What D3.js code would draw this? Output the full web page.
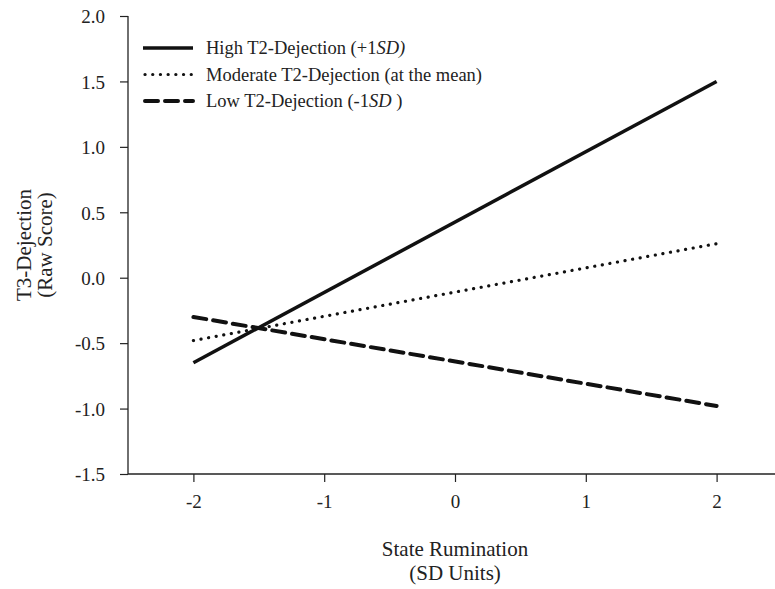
<!DOCTYPE html>
<html>
<head>
<meta charset="utf-8">
<script src="https://cdn.jsdelivr.net/npm/d3@7"></script>
<style>
  body { margin: 0; background: #fff; }
</style>
</head>
<body>
<svg id="chart" width="775" height="589"></svg>
<script>
const FONT = '"Liberation Serif", "Times New Roman", Times, serif';
const MARGIN = { top: 16, left: 128, bottom: 115 };
const W = 775, H = 589;
const TICK_FONT = 19, LEGEND_FONT = 18.5, TITLE_FONT = 21;

// data
const xValues = [-2, 2];
const seriesNames = ['High T2-Dejection (+1SD)', 'Moderate T2-Dejection (at the mean)', 'Low T2-Dejection (-1SD )'];
const highValues = [-0.65, 1.5];
const moderateValues = [-0.48, 0.26];
const lowValues = [-0.30, -0.98];
const xTicks = [-2, -1, 0, 1, 2];
const yTicks = [-1.5, -1.0, -0.5, 0.0, 0.5, 1.0, 1.5, 2.0];

const series = [
  { name: seriesNames[0], values: highValues, dash: null, width: 3.5, cap: 'butt' },
  { name: seriesNames[1], values: moderateValues, dash: '0.1 7.6', width: 3.2, cap: 'round' },
  { name: seriesNames[2], values: lowValues, dash: '13 7', width: 4, cap: 'round' }
];

const svg = d3.select('#chart');

const x = d3.scaleLinear().domain([-2.5, 2.5]).range([MARGIN.left, MARGIN.left + 5 * 130.8]);
const y = d3.scaleLinear().domain([-1.5, 2.0]).range([H - MARGIN.bottom, MARGIN.top]);

const hyphen = f => d => f(d).replace('\u2212', '-');

// axes
const axisX = d3.axisBottom(x).tickValues(xTicks).tickSize(8).tickPadding(13).tickFormat(hyphen(d3.format('d')));
const gx = svg.append('g').attr('transform', `translate(0,${y(-1.5)})`).call(axisX);

const axisY = d3.axisLeft(y).tickValues(yTicks).tickSize(8).tickPadding(15).tickFormat(hyphen(d3.format('.1f')));
const gy = svg.append('g').attr('transform', `translate(${MARGIN.left},0)`).call(axisY);

[gx, gy].forEach(g => {
  g.attr('font-family', FONT).attr('font-size', TICK_FONT);
  g.select('.domain').attr('stroke', '#222').attr('stroke-width', 1.3);
  g.selectAll('.tick line').attr('stroke', '#222').attr('stroke-width', 1.2);
  g.selectAll('.tick text').attr('fill', '#222');
});
gx.select('.domain').attr('d', `M${x(-2.5)},0H${x(2.5)}`);
gy.select('.domain').attr('d', `M0,${y(-1.5)}V${y(2.0)}`);
gy.selectAll('.tick text').attr('dy', '0.36em');

// lines
const line = d3.line().x((d, i) => x(xValues[i])).y(d => y(d));
svg.append('g').selectAll('path')
  .data(series)
  .join('path')
  .attr('d', d => line(d.values))
  .attr('fill', 'none')
  .attr('stroke', '#111')
  .attr('stroke-width', d => d.width)
  .attr('stroke-linecap', d => d.cap)
  .attr('stroke-dasharray', d => d.dash);

// legend
const legend = svg.append('g').attr('transform', 'translate(143,48)')
  .attr('font-family', FONT).attr('font-size', LEGEND_FONT).attr('fill', '#222');
const row = legend.selectAll('g').data(series).join('g')
  .attr('transform', (d, i) => `translate(0,${i * 26.5})`);
row.append('line')
  .attr('x1', d => d.cap === 'round' ? 2 : 0).attr('x2', 50)
  .attr('stroke', '#111')
  .attr('stroke-width', d => d.width)
  .attr('stroke-linecap', d => d.cap)
  .attr('stroke-dasharray', d => d.dash);
const lt = row.append('text').attr('x', 63).attr('dy', '0.35em');
lt.each(function (d) {
  const t = d3.select(this);
  const m = d.name.match(/^(.*\d)(SD)(.*)$/);
  if (m) {
    t.append('tspan').text(m[1]);
    t.append('tspan').attr('font-style', 'italic').text(m[2] + (m[3] === ')' ? ')' : ''));
    if (m[3] !== ')') t.append('tspan').text(m[3]);
  } else {
    t.text(d.name);
  }
});

// axis titles
svg.append('text')
  .attr('transform', 'translate(31,245) rotate(-90)')
  .attr('text-anchor', 'middle')
  .attr('font-family', FONT).attr('font-size', TITLE_FONT).attr('fill', '#222')
  .selectAll('tspan').data(['T3-Dejection', '(Raw Score)']).join('tspan')
  .attr('x', 0).attr('dy', (d, i) => i === 0 ? 0 : '1.0em')
  .text(d => d);

svg.append('text')
  .attr('x', x(0)).attr('y', 556)
  .attr('text-anchor', 'middle')
  .attr('font-family', FONT).attr('font-size', TITLE_FONT).attr('fill', '#222')
  .selectAll('tspan').data(['State Rumination', '(SD Units)']).join('tspan')
  .attr('x', x(0)).attr('dy', (d, i) => i === 0 ? 0 : '1.15em')
  .text(d => d);
</script>
</body>
</html>
